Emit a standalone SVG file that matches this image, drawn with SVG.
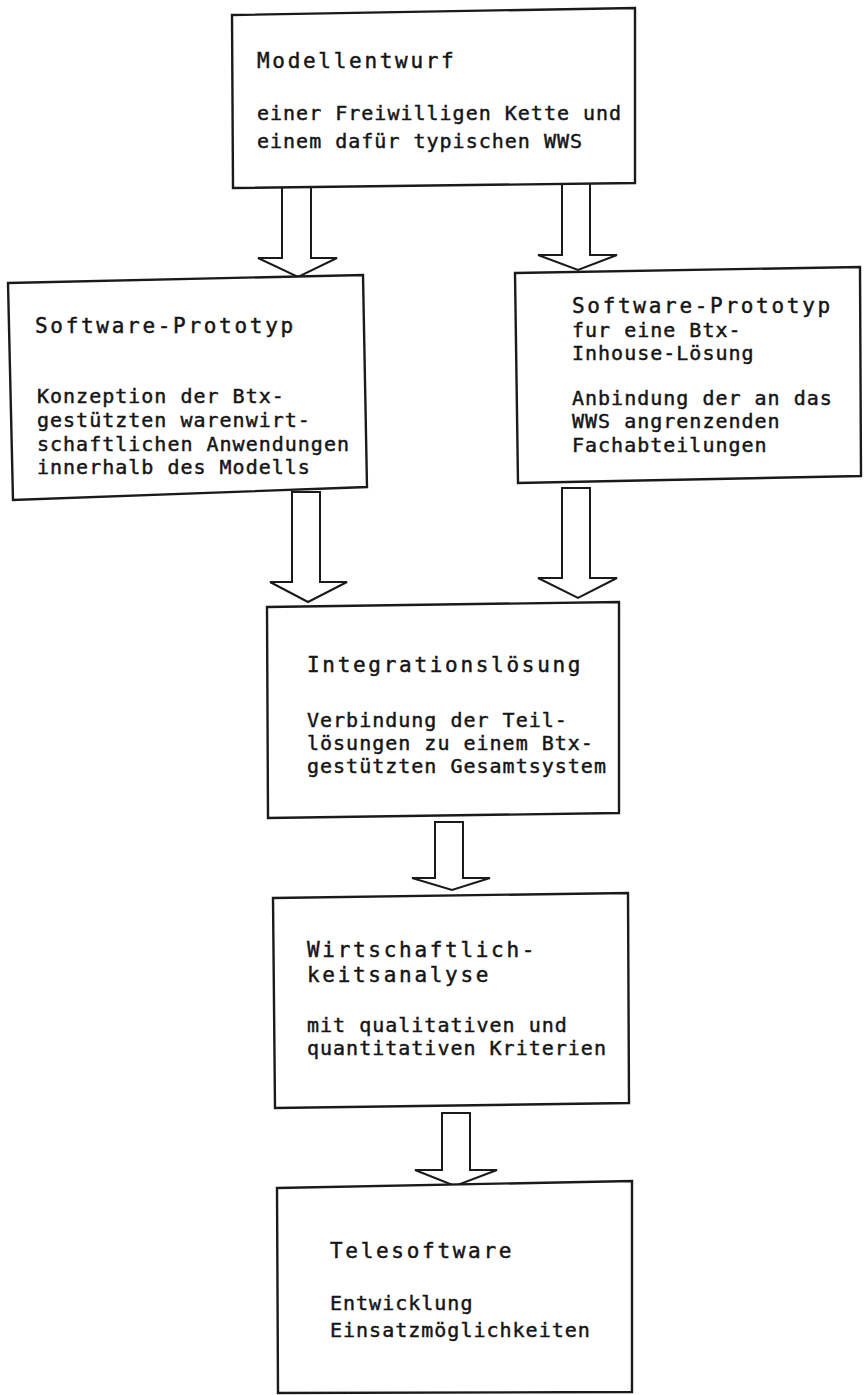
<svg xmlns="http://www.w3.org/2000/svg" width="865" height="1395" viewBox="0 0 865 1395">
  <style>
    .box { fill: #fff; stroke: #1a1a1a; stroke-width: 2.4; stroke-linejoin: miter; }
    .arr { fill: #fff; stroke: #1a1a1a; stroke-width: 2; stroke-linejoin: miter; }
    .hd { font-family: "DejaVu Sans Mono", "Liberation Mono", monospace; font-size: 21px; letter-spacing: 2.7px; fill: #151515; stroke: #151515; stroke-width: 0.45; }
    .tx { font-family: "DejaVu Sans Mono", "Liberation Mono", monospace; font-size: 20px; letter-spacing: 1px; fill: #151515; stroke: #151515; stroke-width: 0.45; }
  </style>
  <rect width="865" height="1395" fill="#fff"/>

  <!-- block arrows between the stages -->
  <g id="connectors">
    <polygon class="arr" points="282,187 311,187 311,258 337,258 298,277 258,258 282,258"/>
    <polygon class="arr" points="562,183 590,183 590,255 617,255 578,270 538,255 562,255"/>
    <polygon class="arr" points="292,492 320,492 320,582 347,582 308,602 270,582 292,582"/>
    <polygon class="arr" points="562,488 590,488 590,578 617,578 578,598 538,578 562,578"/>
    <polygon class="arr" points="435,822 463,822 463,878 490,878 452,890 412,878 435,878"/>
    <polygon class="arr" points="442,1113 470,1113 470,1170 497,1170 455,1186 415,1170 442,1170"/>
  </g>

  <g id="modellentwurf">
    <polygon class="box" points="232,15 635,8 635,183 233,188"/>
    <text class="hd" x="257" y="68">Modellentwurf</text>
    <text class="tx" x="257" y="120">einer Freiwilligen Kette und</text>
    <text class="tx" x="257" y="148">einem dafür typischen WWS</text>
  </g>

  <g id="prototyp-btx">
    <polygon class="box" points="8,283 363,275 367,487 13,500"/>
    <text class="hd" x="35" y="333">Software-Prototyp</text>
    <text class="tx" x="37" y="403">Konzeption der Btx-</text>
    <text class="tx" x="37" y="427">gestützten warenwirt-</text>
    <text class="tx" x="37" y="451">schaftlichen Anwendungen</text>
    <text class="tx" x="37" y="474">innerhalb des Modells</text>
  </g>

  <g id="prototyp-inhouse">
    <polygon class="box" points="515,273 860,267 861,476 518,483"/>
    <text class="hd" x="572" y="313">Software-Prototyp</text>
    <text class="tx" x="572" y="337">fur eine Btx-</text>
    <text class="tx" x="572" y="360">Inhouse-Lösung</text>
    <text class="tx" x="572" y="405">Anbindung der an das</text>
    <text class="tx" x="572" y="428">WWS angrenzenden</text>
    <text class="tx" x="572" y="452">Fachabteilungen</text>
  </g>

  <g id="integration">
    <polygon class="box" points="267,607 619,602 619,813 268,818"/>
    <text class="hd" x="307" y="672">Integrationslösung</text>
    <text class="tx" x="307" y="727">Verbindung der Teil-</text>
    <text class="tx" x="307" y="750">lösungen zu einem Btx-</text>
    <text class="tx" x="307" y="773">gestützten Gesamtsystem</text>
  </g>

  <g id="wirtschaftlichkeit">
    <polygon class="box" points="273,898 628,893 629,1103 275,1108"/>
    <text class="hd" x="307" y="957">Wirtschaftlich-</text>
    <text class="hd" x="307" y="982">keitsanalyse</text>
    <text class="tx" x="307" y="1032">mit qualitativen und</text>
    <text class="tx" x="307" y="1055">quantitativen Kriterien</text>
  </g>

  <g id="telesoftware">
    <polygon class="box" points="277,1188 632,1181 632,1392 278,1393"/>
    <text class="hd" x="330" y="1258">Telesoftware</text>
    <text class="tx" x="330" y="1310">Entwicklung</text>
    <text class="tx" x="330" y="1337">Einsatzmöglichkeiten</text>
  </g>
</svg>
